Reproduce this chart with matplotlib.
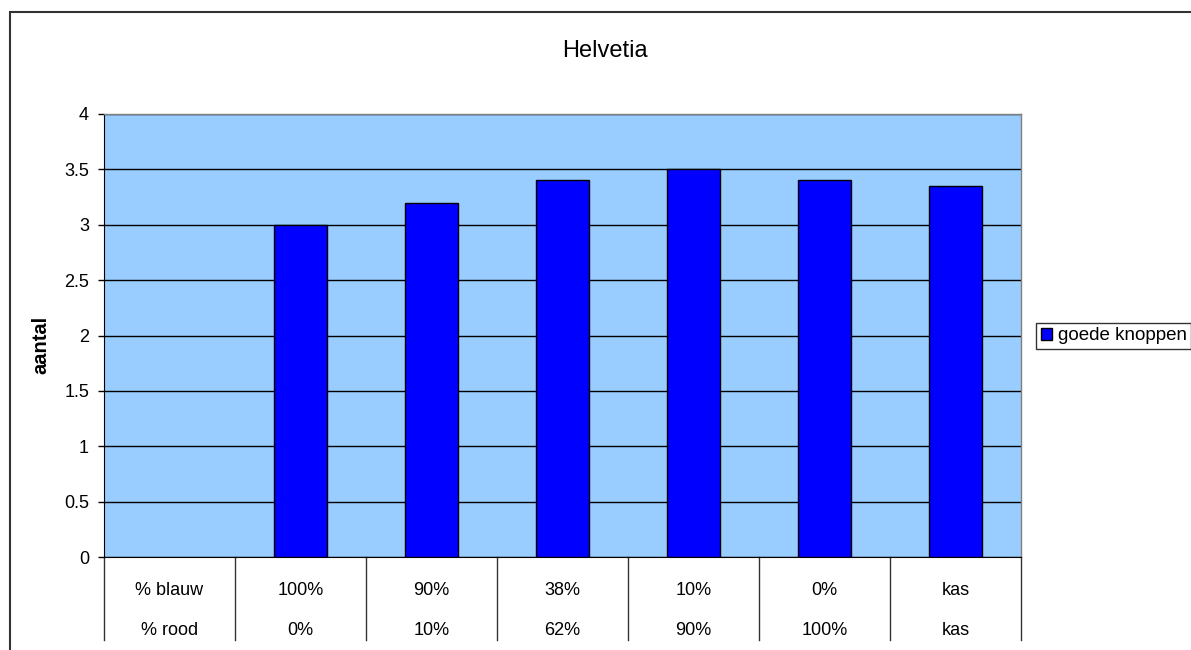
import matplotlib
matplotlib.use("Agg")
import matplotlib.pyplot as plt
from matplotlib.patches import Rectangle
from matplotlib.transforms import blended_transform_factory

plt.rcParams['font.family'] = ['Liberation Sans', 'DejaVu Sans']

title = "Helvetia"
row_blauw = ["% blauw", "100%", "90%", "38%", "10%", "0%", "kas"]
row_rood = ["% rood", "0%", "10%", "62%", "90%", "100%", "kas"]
values = [None, 3.0, 3.2, 3.4, 3.5, 3.4, 3.35]
series_name = "goede knoppen"
yticks = [0, 0.5, 1, 1.5, 2, 2.5, 3, 3.5, 4]

W, H = 1191, 650
fig = plt.figure(figsize=(W / 100, H / 100), dpi=100)

# outer chart frame (runs past the right and bottom edges)
fig.patches.append(Rectangle((10 / W, -0.1), 1.2, 1 - 12 / H + 0.1,
                             transform=fig.transFigure, fill=False,
                             edgecolor="#333333", linewidth=1.5))

ax = fig.add_axes([104 / W, 1 - 557 / H, (1021 - 104) / W, (557 - 114) / H])
ax.set_facecolor("#99CCFF")

xs = [i for i, v in enumerate(values) if v is not None]
hs = [v for v in values if v is not None]
bars = ax.bar(xs, hs, width=0.4, color="#0000FF", edgecolor="black",
              linewidth=1, zorder=3, label=series_name)

ax.set_xlim(-0.5, len(values) - 0.5)
ax.set_ylim(0, 4)
ax.set_yticks(yticks)
ax.set_yticklabels([f"{t:g}" for t in yticks], fontsize=13)
ax.yaxis.grid(True, color="black", linewidth=1, zorder=1)
ax.set_axisbelow(True)
ax.tick_params(axis="y", length=4.3, width=1, pad=6.5, direction="out")
ax.set_xticks([])

for s in ("top", "right"):
    ax.spines[s].set_color("#808080")
    ax.spines[s].set_linewidth(1)
ax.spines["left"].set_color("black")
ax.spines["bottom"].set_color("black")

fig.text(41 / W, 1 - 345 / H, "aantal", rotation=90, fontsize=14.5,
         fontweight="bold", ha="center", va="center")

fig.text(605 / W, 1 - 57 / H, title, fontsize=17, ha="center", va="baseline")

# data table beneath the axis
trans = blended_transform_factory(ax.transData, fig.transFigure)
y_top = 1 - 557 / H
y_bot = 1 - 640 / H
for b in [x - 0.5 for x in range(len(values) + 1)]:
    ax.plot([b, b], [y_top, y_bot], transform=trans, color="#333333",
            linewidth=1, clip_on=False)
for i, (a, r) in enumerate(zip(row_blauw, row_rood)):
    ax.text(i, 1 - 595 / H, a, transform=trans, ha="center", va="baseline", fontsize=13)
    ax.text(i, 1 - 635 / H, r, transform=trans, ha="center", va="baseline", fontsize=13)

leg = fig.legend(handles=[bars], labels=[series_name], loc="center left",
                 bbox_to_anchor=(1036 / W, 1 - 336 / H), fontsize=13.5,
                 frameon=True, fancybox=False, edgecolor="black",
                 handlelength=0.6, handleheight=0.6, handletextpad=0.3,
                 borderpad=0.25, borderaxespad=0)
leg.get_frame().set_linewidth(1)

fig.savefig("out.png", dpi=100, facecolor="white")
